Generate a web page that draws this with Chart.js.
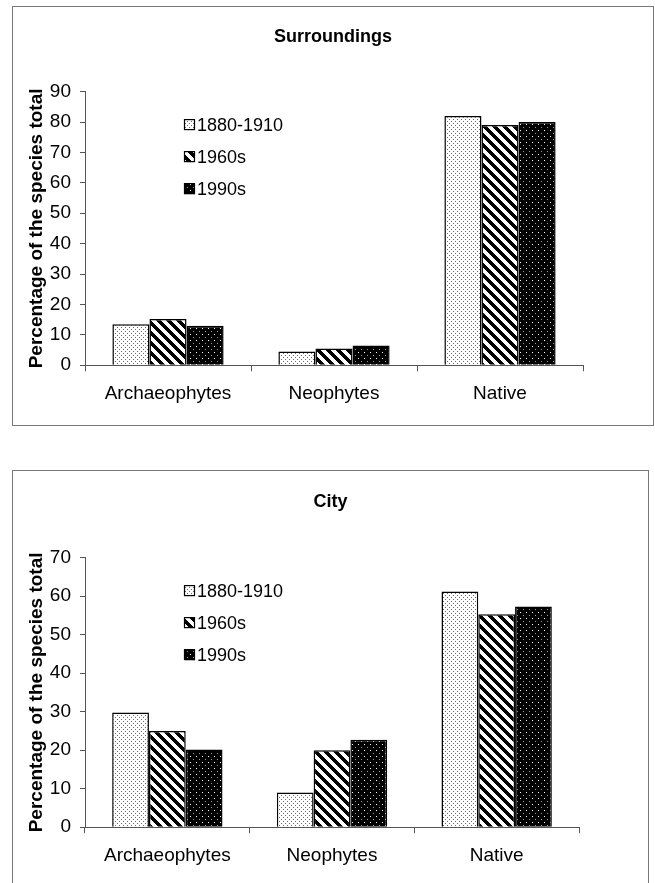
<!DOCTYPE html>
<html>
<head>
<meta charset="utf-8">
<script src="https://cdn.jsdelivr.net/npm/chart.js@4.4.1/dist/chart.umd.min.js"></script>
<style>
  body { margin: 0; background: #fff; width: 655px; height: 883px; position: relative; overflow: hidden; }
  .box { position: absolute; border: 1px solid #777; background: #fff; }
  .box canvas { position: absolute; left: 0; top: 0; }
</style>
</head>
<body>
<div class="box" style="left:12px; top:6px; width:640px; height:418px;">
  <canvas id="surroundings" width="640" height="418"></canvas>
</div>
<div class="box" style="left:12px; top:470px; width:635px; height:420px;">
  <canvas id="city" width="635" height="420"></canvas>
</div>
<script>
const categories = ['Archaeophytes', 'Neophytes', 'Native'];
const periods = ['1880-1910', '1960s', '1990s'];

// surroundings, % of species total
const surr1880 = [13.5, 4.5, 82];
const surr1960 = [15.2, 5.5, 79];
const surr1990 = [13, 6.5, 80];

// city
const city1880 = [29.8, 9, 61.2];
const city1960 = [25, 20, 55.3];
const city1990 = [20.2, 22.7, 57.3];

const surrTicks = [0, 10, 20, 30, 40, 50, 60, 70, 80, 90];
const cityTicks = [0, 10, 20, 30, 40, 50, 60, 70];

const FONT = "'Liberation Sans', Arial, sans-serif";

function makeTile(w, h, draw) {
  const c = document.createElement('canvas');
  c.width = w; c.height = h;
  const g = c.getContext('2d');
  draw(g, w, h);
  return c.getContext('2d').createPattern(c, 'repeat');
}

// light stipple
const dotsLight = makeTile(4, 4, function (g) {
  g.fillStyle = '#fff'; g.fillRect(0, 0, 4, 4);
  g.fillStyle = '#666';
  g.fillRect(0, 0, 1, 1);
  g.fillRect(2, 2, 1, 1);
});
// wide downward diagonal
const diag = makeTile(10, 10, function (g) {
  g.fillStyle = '#fff'; g.fillRect(0, 0, 10, 10);
  g.fillStyle = '#000';
  for (let y = 0; y < 10; y++) {
    for (let x = 0; x < 10; x++) {
      if (((x - y) % 10 + 10) % 10 < 5) g.fillRect(x, y, 1, 1);
    }
  }
});
// black with white dots
const dotsDark = makeTile(6, 6, function (g) {
  g.fillStyle = '#000'; g.fillRect(0, 0, 6, 6);
  g.fillStyle = '#fff';
  g.fillRect(3, 3, 1, 1);
  g.fillStyle = '#999';
  g.fillRect(0, 0, 1, 1);
});
const fills = [dotsLight, diag, dotsDark];

const legendInside = {
  id: 'legendInside',
  afterDraw(chart) {
    const ctx = chart.ctx;
    const a = chart.chartArea;
    ctx.save();
    ctx.font = '18px ' + FONT;
    ctx.textBaseline = 'middle';
    chart.data.datasets.forEach(function (ds, i) {
      const x = a.left + 99;
      const y = a.top + 33 + i * 32;
      ctx.fillStyle = ds.backgroundColor;
      ctx.fillRect(x, y - 5.5, 11, 11);
      ctx.strokeStyle = '#000';
      ctx.lineWidth = 1.2;
      ctx.strokeRect(x + 0.5, y - 5, 10, 10);
      ctx.fillStyle = '#000';
      ctx.fillText(ds.label, x + 13, y + 1);
    });
    ctx.restore();
  }
};

function makeChart(id, title, series, ticks, pad) {
  const ctx = document.getElementById(id).getContext('2d');
  return new Chart(ctx, {
    type: 'bar',
    data: {
      labels: categories,
      datasets: series.map(function (s, i) {
        return {
          label: periods[i],
          data: s,
          backgroundColor: fills[i],
          borderColor: '#000',
          borderWidth: 1.5,
          borderSkipped: 'start',
          barPercentage: 1,
          categoryPercentage: 0.67
        };
      })
    },
    options: {
      responsive: false,
      animation: false,
      layout: { padding: { left: 0, right: 0, top: 0, bottom: pad.bottom } },
      plugins: {
        legend: { display: false },
        tooltip: { enabled: false },
        title: {
          display: true,
          text: title,
          color: '#000',
          font: { family: FONT, size: 18, weight: 'bold' },
          padding: { top: pad.titleTop, bottom: pad.titleBottom }
        }
      },
      scales: {
        x: {
          grid: { offset: true, drawOnChartArea: false, drawTicks: true, tickLength: 6, tickColor: '#555', color: '#555' },
          border: { display: true, color: '#555', width: 1 },
          ticks: { color: '#000', font: { family: FONT, size: 19 }, padding: 11, maxRotation: 0 }
        },
        y: {
          min: ticks[0],
          max: ticks[ticks.length - 1],
          afterFit: function (scale) { scale.width = 72; },
          afterBuildTicks: function (scale) { scale.ticks = ticks.map(function (v) { return { value: v }; }); },
          grid: { drawOnChartArea: false, drawTicks: true, tickLength: 5, tickColor: '#555', color: '#555' },
          border: { display: true, color: '#555', width: 1 },
          ticks: { color: '#000', font: { family: FONT, size: 19 }, padding: 9 },
          title: {
            display: true,
            text: 'Percentage of the species total',
            color: '#000',
            font: { family: FONT, size: 19, weight: 'bold' },
            padding: { top: 12, bottom: 0 }
          }
        },
        // empty right-hand space so the title stays centred on the whole box
        spacer: {
          type: 'linear',
          position: 'right',
          afterFit: function (scale) { scale.width = pad.right; },
          grid: { display: false },
          border: { display: false },
          ticks: { display: false }
        }
      }
    },
    plugins: [legendInside]
  });
}

makeChart('surroundings', 'Surroundings', [surr1880, surr1960, surr1990], surrTicks,
  { right: 70, bottom: 9, titleTop: 19, titleBottom: 44 });
makeChart('city', 'City', [city1880, city1960, city1990], cityTicks,
  { right: 69, bottom: 13, titleTop: 20, titleBottom: 45 });
</script>
</body>
</html>
